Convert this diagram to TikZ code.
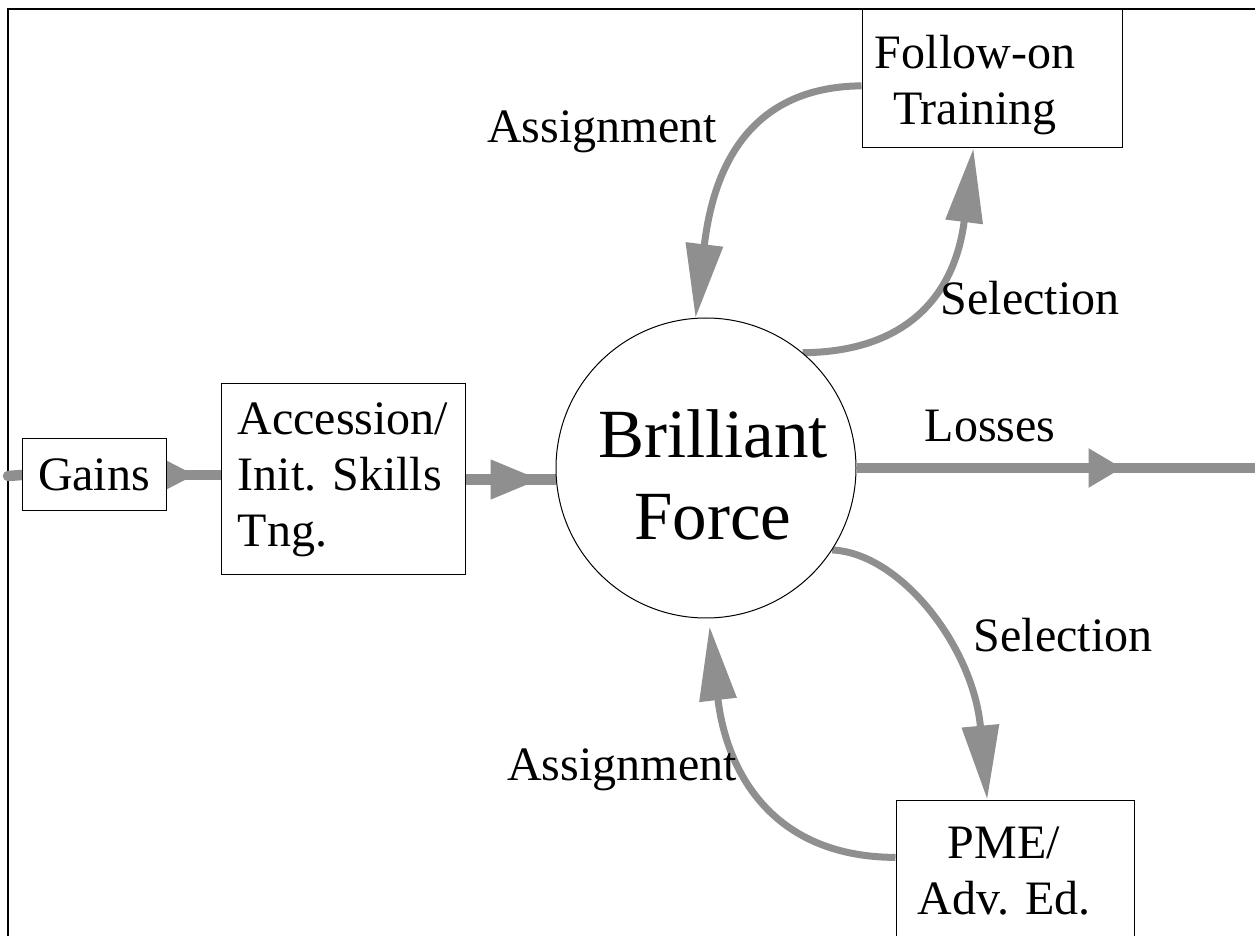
\documentclass[tikz,border=0pt]{standalone}
\usepackage{fontspec}
\setmainfont{Liberation Serif}
\usetikzlibrary{arrows.meta,decorations.markings,backgrounds}
\definecolor{flowgray}{RGB}{143,143,143}
\begin{document}
\begin{tikzpicture}[x=0.5pt,y=-0.5pt,
        every node/.style={font=\fontsize{24}{28}\selectfont},
        box/.style={draw,fill=white,line width=0.5pt,inner sep=0pt},
        flow/.style={flowgray,line width=5.25pt},
        loop/.style={flowgray,line width=3.5pt,-{Triangle[length=37pt,width=18pt]}},
        midtip/.style 2 args={decoration={markings,mark=at position #1 with {\arrow{Triangle[length=#2,width=18.5pt]}}},postaction={decorate}}]
            \useasboundingbox (0,0) rectangle (1255,936);
            \node[box,minimum width=72pt,minimum height=36pt] (gains) at (94,475) {Gains};
            \node[box,minimum width=122pt,minimum height=95.5pt,align=left] (acc) at (343,479.5) {Accession/\\Init. Skills\\Tng.};
            \node[draw,circle,fill=white,line width=0.5pt,minimum size=150pt,inner sep=0pt,label={[align=center,xshift=3.5pt,yshift=-3.5pt,font=\fontsize{34.5}{41}\selectfont]center:Brilliant\\Force}] (force) at (706,468) {};
            \node[box,minimum width=130pt,minimum height=69pt,label={[align=center,xshift=-8.5pt,yshift=-3pt]center:Follow-on\\Training}] (follow) at (992,79) {};
            \node[box,minimum width=119pt,minimum height=85pt,label={[align=center,xshift=-5.5pt,yshift=7pt]center:PME/\\Adv. Ed.}] (pme) at (1015,885) {};
            \node (asgtop) at (602,132) {Assignment};
            \node (seltop) at (1030,298) {Selection};
            \node (loss) at (990,426) {Losses};
            \node (selbot) at (1063,635) {Selection};
            \node (asgbot) at (622,770) {Assignment};
            \coordinate (src) at (8,476);
            \coordinate (sink) at (1255,468);
            \begin{scope}[on background layer]
            \draw[line width=1pt] (8,936)--(8,9)--(1255,9);
            \draw[flow,line cap=round] (src)--(gains.west);
            \draw[flow,midtip={14.5pt}{20pt}] (gains.east)--(gains.east-|acc.west);
            \draw[flow,midtip={37.5pt}{25pt}] (acc.east)--(acc.east-|force.west);
            \draw[flow,midtip={133pt}{17pt}] (force.east)--(sink);
            \draw[loop] (follow.183.5) .. controls (735,87) and (711,190) .. (force.94);
            \draw[loop] (force.50) .. controls (900,352) and (954,302) .. (follow.255);
            \draw[loop] (force.-33) .. controls (900,553) and (973,646) .. (pme.108);
            \draw[loop,shorten >=4pt] (pme.167) .. controls (770,857) and (726,769) .. (force.-89);
            \end{scope}
        \end{tikzpicture}
\end{document}
